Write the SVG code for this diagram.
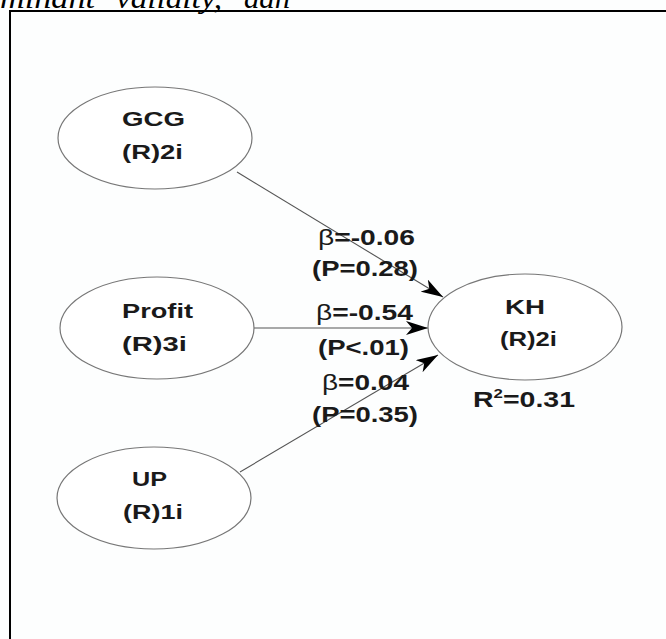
<svg xmlns="http://www.w3.org/2000/svg" width="666" height="639" viewBox="0 0 666 639">
<style>
.bg{fill:#fdfefe}
.frame{fill:none;stroke:#000;stroke-width:2}
.node{fill:#fff;stroke:#777;stroke-width:1.2}
.lbl{font-family:"Liberation Sans",Arial,sans-serif;font-weight:bold;font-size:21px;fill:#1a1a1a}
.elbl{font-family:"Liberation Sans",Arial,sans-serif;font-weight:bold;font-size:22px;fill:#1a1a1a}
.beta{font-weight:normal}
.edge{fill:none;stroke:#555;stroke-width:1.1}
.top{font-family:"Liberation Serif","Times New Roman",serif;font-style:italic;font-size:29px;fill:#000}
</style>
<defs>
<marker id="ah" markerUnits="userSpaceOnUse" viewBox="0 0 22 14" refX="22" refY="7" markerWidth="22" markerHeight="14" orient="auto">
<path d="M0,0 L22,7 L0,14 L6,7 z" fill="#000"/>
</marker>
</defs>
<rect class="bg" x="0" y="0" width="666" height="639"/>
<text class="top" x="0" y="8" textLength="95" lengthAdjust="spacingAndGlyphs">minant</text>
<text class="top" x="116" y="8" textLength="106" lengthAdjust="spacingAndGlyphs">validity,</text>
<text class="top" x="244" y="8" textLength="46" lengthAdjust="spacingAndGlyphs">dan</text>
<path class="frame" d="M10,640 V11 H667"/>
<g id="connectors">
<line class="edge" x1="237" y1="172" x2="443" y2="297" marker-end="url(#ah)"/>
<line class="edge" x1="253" y1="328" x2="428" y2="328" marker-end="url(#ah)"/>
<line class="edge" x1="240" y1="472" x2="438" y2="355" marker-end="url(#ah)"/>
<text class="elbl" x="318" y="245" textLength="97" lengthAdjust="spacingAndGlyphs"><tspan class="beta">β</tspan>=-0.06</text>
<text class="elbl" x="312" y="276" textLength="106" lengthAdjust="spacingAndGlyphs">(P=0.28)</text>
<text class="elbl" x="316" y="320" textLength="97" lengthAdjust="spacingAndGlyphs"><tspan class="beta">β</tspan>=-0.54</text>
<text class="elbl" x="318" y="355" textLength="91" lengthAdjust="spacingAndGlyphs">(P&lt;.01)</text>
<text class="elbl" x="322" y="390" textLength="87" lengthAdjust="spacingAndGlyphs"><tspan class="beta">β</tspan>=0.04</text>
<text class="elbl" x="312" y="422" textLength="106" lengthAdjust="spacingAndGlyphs">(P=0.35)</text>
</g>
<g id="GCG">
<ellipse class="node" cx="155" cy="138" rx="97" ry="51"/>
<text class="lbl" x="122" y="126" textLength="63" lengthAdjust="spacingAndGlyphs">GCG</text>
<text class="lbl" x="122" y="159" textLength="61" lengthAdjust="spacingAndGlyphs">(R)2i</text>
</g>
<g id="Profit">
<ellipse class="node" cx="157" cy="328" rx="97" ry="51"/>
<text class="lbl" x="122" y="318" textLength="71" lengthAdjust="spacingAndGlyphs">Profit</text>
<text class="lbl" x="122" y="351" textLength="65" lengthAdjust="spacingAndGlyphs">(R)3i</text>
</g>
<g id="UP">
<ellipse class="node" cx="154" cy="498" rx="97" ry="51"/>
<text class="lbl" x="132" y="486" textLength="35" lengthAdjust="spacingAndGlyphs">UP</text>
<text class="lbl" x="123" y="519" textLength="60" lengthAdjust="spacingAndGlyphs">(R)1i</text>
</g>
<g id="KH">
<ellipse class="node" cx="525" cy="327" rx="97" ry="53"/>
<text class="lbl" x="505" y="314" textLength="40" lengthAdjust="spacingAndGlyphs">KH</text>
<text class="lbl" x="500" y="346" textLength="57" lengthAdjust="spacingAndGlyphs">(R)2i</text>
<text class="elbl" x="473" y="407" textLength="102" lengthAdjust="spacingAndGlyphs">R<tspan font-size="13" dy="-9">2</tspan><tspan dy="9">=0.31</tspan></text>
</g>
</svg>
